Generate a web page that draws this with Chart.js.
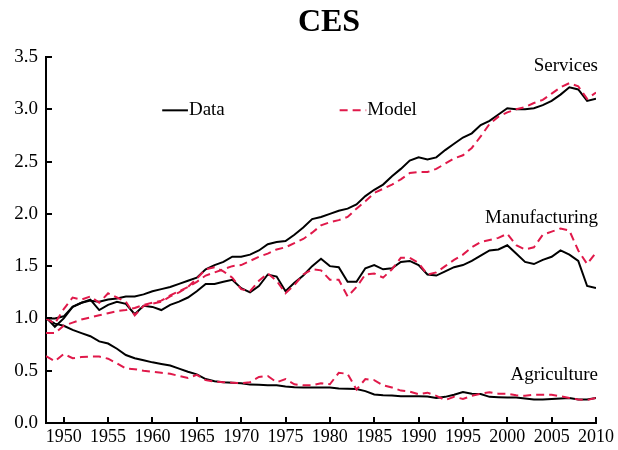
<!DOCTYPE html>
<html>
<head>
<meta charset="utf-8">
<script src="https://cdn.jsdelivr.net/npm/chart.js@4.4.1/dist/chart.umd.min.js"></script>
<style>
html,body{margin:0;padding:0;background:#fff;}
canvas{display:block;}
</style>
</head>
<body>
<canvas id="c" width="618" height="450"></canvas>
<script>
const years = [1948,1949,1950,1951,1952,1953,1954,1955,1956,1957,1958,1959,1960,1961,1962,1963,1964,1965,1966,1967,1968,1969,1970,1971,1972,1973,1974,1975,1976,1977,1978,1979,1980,1981,1982,1983,1984,1985,1986,1987,1988,1989,1990,1991,1992,1993,1994,1995,1996,1997,1998,1999,2000,2001,2002,2003,2004,2005,2006,2007,2008,2009,2010];

const servicesData = [1.00,1.00,1.02,1.11,1.15,1.17,1.16,1.18,1.19,1.21,1.21,1.23,1.26,1.28,1.30,1.33,1.36,1.39,1.47,1.51,1.54,1.59,1.59,1.61,1.65,1.71,1.73,1.74,1.80,1.87,1.95,1.97,2.00,2.03,2.05,2.09,2.17,2.23,2.28,2.36,2.43,2.51,2.54,2.52,2.54,2.61,2.67,2.73,2.77,2.85,2.89,2.95,3.01,3.00,3.00,3.01,3.04,3.08,3.14,3.21,3.19,3.08,3.10];
const servicesModel = [0.86,0.86,0.93,0.96,0.99,1.01,1.03,1.05,1.07,1.08,1.10,1.13,1.15,1.17,1.22,1.26,1.30,1.35,1.41,1.44,1.47,1.50,1.51,1.55,1.59,1.62,1.66,1.68,1.72,1.76,1.82,1.89,1.92,1.94,1.97,2.05,2.12,2.20,2.24,2.28,2.33,2.39,2.40,2.40,2.43,2.48,2.53,2.56,2.63,2.74,2.86,2.93,2.97,3.00,3.02,3.06,3.09,3.15,3.21,3.25,3.22,3.10,3.16];
const manufData = [1.01,0.92,1.00,1.11,1.15,1.18,1.08,1.13,1.16,1.14,1.04,1.12,1.11,1.08,1.13,1.16,1.20,1.26,1.33,1.33,1.35,1.37,1.29,1.25,1.31,1.42,1.40,1.26,1.34,1.41,1.50,1.57,1.50,1.49,1.35,1.35,1.48,1.51,1.47,1.48,1.54,1.55,1.51,1.42,1.41,1.45,1.49,1.51,1.55,1.60,1.65,1.66,1.70,1.62,1.54,1.52,1.56,1.59,1.65,1.61,1.55,1.31,1.29];
const manufModel = [1.00,0.95,1.09,1.20,1.18,1.21,1.15,1.24,1.20,1.16,1.03,1.12,1.14,1.16,1.21,1.25,1.30,1.38,1.47,1.49,1.45,1.39,1.28,1.26,1.36,1.43,1.36,1.24,1.32,1.42,1.47,1.46,1.37,1.37,1.21,1.30,1.42,1.43,1.39,1.47,1.58,1.58,1.53,1.42,1.44,1.50,1.56,1.61,1.68,1.73,1.75,1.77,1.81,1.70,1.66,1.68,1.80,1.83,1.86,1.84,1.65,1.52,1.63];
const agriData = [1.00,0.95,0.93,0.89,0.86,0.83,0.78,0.76,0.71,0.65,0.62,0.60,0.58,0.565,0.55,0.52,0.49,0.465,0.42,0.40,0.39,0.385,0.38,0.367,0.365,0.362,0.36,0.35,0.342,0.34,0.34,0.34,0.34,0.33,0.328,0.325,0.305,0.272,0.265,0.262,0.256,0.255,0.255,0.253,0.24,0.25,0.27,0.297,0.28,0.278,0.25,0.247,0.245,0.243,0.235,0.225,0.225,0.23,0.235,0.24,0.225,0.225,0.24];
const agriModel = [0.64,0.59,0.66,0.62,0.63,0.635,0.635,0.615,0.57,0.52,0.515,0.50,0.49,0.48,0.47,0.45,0.43,0.46,0.41,0.395,0.39,0.385,0.38,0.39,0.44,0.45,0.39,0.42,0.37,0.36,0.36,0.38,0.37,0.48,0.47,0.32,0.42,0.41,0.36,0.34,0.31,0.30,0.275,0.29,0.26,0.22,0.25,0.23,0.26,0.28,0.295,0.28,0.28,0.265,0.26,0.27,0.27,0.27,0.255,0.24,0.225,0.22,0.24];

const xTicks = [1950,1955,1960,1965,1970,1975,1980,1985,1990,1995,2000,2005,2010];
const yTicks = [0.0,0.5,1.0,1.5,2.0,2.5,3.0,3.5];
const sectorNames = ['Services','Manufacturing','Agriculture'];
const legendNames = ['Data','Model'];

const BLACK = '#000000';
const RED = '#e0194a';
const SERIF = "'Liberation Serif', 'DejaVu Serif', serif";

function pts(arr){ return years.map((y,i)=>({x:y,y:arr[i]})); }
function ds(arr, model){
  return {
    data: pts(arr),
    borderColor: model ? RED : BLACK,
    borderWidth: 2,
    borderDash: model ? [8,5] : [],
    pointRadius: 0,
    tension: 0,
    fill: false
  };
}

const overlay = {
  id: 'overlay',
  afterDraw(chart){
    const ctx = chart.ctx;
    const xs = chart.scales.x, ys = chart.scales.y;
    const ca = chart.chartArea;
    ctx.save();
    // inside ticks
    ctx.strokeStyle = '#000'; ctx.lineWidth = 2;
    xTicks.forEach(v=>{
      const px = Math.round(xs.getPixelForValue(v));
      ctx.beginPath(); ctx.moveTo(px, ca.bottom); ctx.lineTo(px, ca.bottom-6); ctx.stroke();
    });
    yTicks.forEach(v=>{
      const py = Math.round(ys.getPixelForValue(v));
      ctx.beginPath(); ctx.moveTo(ca.left, py); ctx.lineTo(ca.left+6, py); ctx.stroke();
    });
    // title
    ctx.fillStyle = '#000';
    ctx.font = "bold 32px " + SERIF;
    ctx.textAlign = 'center'; ctx.textBaseline = 'alphabetic';
    ctx.fillText('CES', 329, 31);
    // sector labels
    ctx.font = "19px " + SERIF;
    ctx.textAlign = 'right'; ctx.textBaseline = 'middle';
    const rx = xs.getPixelForValue(2010) + 2;
    ctx.fillText(sectorNames[0], rx, ys.getPixelForValue(3.41));
    ctx.fillText(sectorNames[1], rx, ys.getPixelForValue(1.96));
    ctx.fillText(sectorNames[2], rx, ys.getPixelForValue(0.46));
    // legend
    const ly = ys.getPixelForValue(2.99);
    ctx.textAlign = 'left';
    let x0 = xs.getPixelForValue(1961.1), x1 = xs.getPixelForValue(1964.0);
    ctx.strokeStyle = BLACK; ctx.lineWidth = 2; ctx.setLineDash([]);
    ctx.beginPath(); ctx.moveTo(x0, ly); ctx.lineTo(x1, ly); ctx.stroke();
    ctx.fillText(legendNames[0], x1+1, ly);
    x0 = xs.getPixelForValue(1981.1); x1 = xs.getPixelForValue(1984.1);
    ctx.strokeStyle = RED; ctx.setLineDash([8,5]);
    ctx.beginPath(); ctx.moveTo(x0, ly); ctx.lineTo(x1, ly); ctx.stroke();
    ctx.setLineDash([]);
    ctx.fillText(legendNames[1], x1+1, ly);
    ctx.restore();
  }
};

new Chart(document.getElementById('c'), {
  type: 'line',
  data: {
    datasets: [
      ds(servicesModel,true), ds(manufModel,true), ds(agriModel,true),
      ds(servicesData,false), ds(manufData,false), ds(agriData,false)
    ]
  },
  options: {
    responsive: false,
    animation: false,
    layout: { padding: { top: 57, right: 22, left: 0, bottom: 0 } },
    plugins: { legend: { display: false }, tooltip: { enabled: false }, title: { display: false } },
    scales: {
      x: {
        type: 'linear', min: 1948, max: 2010,
        afterBuildTicks(s){ s.ticks = xTicks.map(v=>({value:v})); },
        afterFit(s){ s.height = 27; },
        grid: { display: false, drawTicks: false },
        border: { display: true, color: '#000', width: 2 },
        ticks: { color: '#000', font: { family: SERIF, size: 18 }, padding: 3, maxRotation: 0, autoSkip: false, callback: v => String(v) }
      },
      y: {
        type: 'linear', min: 0, max: 3.5,
        afterBuildTicks(s){ s.ticks = yTicks.map(v=>({value:v})); },
        afterFit(s){ s.width = 46; },
        grid: { display: false, drawTicks: false },
        border: { display: true, color: '#000', width: 2 },
        ticks: { color: '#000', font: { family: SERIF, size: 19 }, padding: 8, callback: v => v.toFixed(1) }
      }
    }
  },
  plugins: [overlay]
});
</script>
</body>
</html>
